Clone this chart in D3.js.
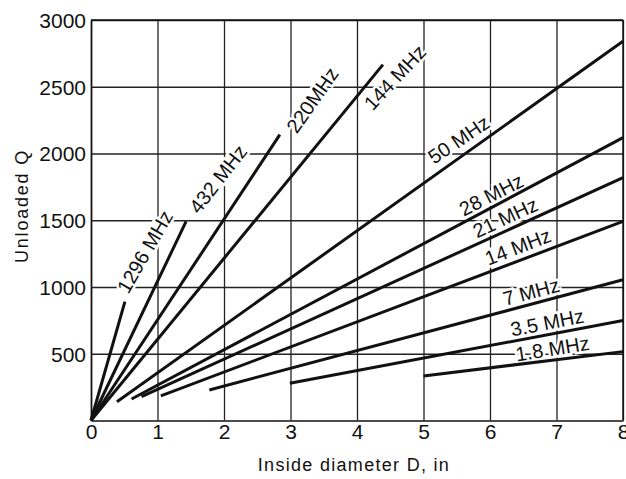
<!DOCTYPE html>
<html>
<head>
<meta charset="utf-8">
<script src="https://cdn.jsdelivr.net/npm/d3@7"></script>
<style>
  body { margin: 0; background: #fff; }
  svg { display: block; font-family: "Liberation Sans", Arial, sans-serif; }
  .axis .domain { stroke: #111; stroke-width: 1.6px; }
  .axis .tick line { stroke: #222; stroke-width: 1.3px; }
  .axis .tick text { font-size: 21px; fill: #111; }
</style>
</head>
<body>
<div id="chart"></div>
<script>
// chart values
var bands = ["1296 MHz", "432 MHz", "220MHz", "144 MHz", "50 MHz", "28 MHz",
             "21 MHz", "14 MHz", "7 MHz", "3.5 MHz", "1.8 MHz"];
var dStart = [0, 0, 0, 0, 0.39, 0.61, 0.76, 1.05, 1.78, 2.99, 5.0];
var qStart = [0, 0, 0, 0, 140, 161, 178, 184, 229, 279, 334];
var dEnd = [0.51, 1.43, 2.84, 4.39, 8, 8, 8, 8, 8, 8, 8];
var qEnd = [891, 1491, 2141, 2666, 2841, 2119, 1819, 1491, 1054, 749, 516];
var xTicks = [0, 1, 2, 3, 4, 5, 6, 7, 8];
var yTicks = [500, 1000, 1500, 2000, 2500, 3000];

// where the band labels sit (data units) and their tilt
var labelD = [0.81, 1.91, 3.33, 4.57, 5.53, 6.02, 6.23, 6.42, 6.62, 6.86, 6.94];
var labelQ = [1264, 1808, 2400, 2569, 2104, 1691, 1519, 1301, 964, 733, 538];
var labelAngle = [-60, -52, -55, -47, -34, -27, -25, -21, -15, -11, -9];

// margins and svg size
var margin = { top: 20, right: 3, bottom: 58.5, left: 91 },
  width = 626 - margin.left - margin.right,
  height = 479 - margin.top - margin.bottom;

var svg = d3.select("#chart").append("svg")
  .attr("width", 626)
  .attr("height", 479);

var g = svg.append("g")
  .attr("transform", "translate(" + margin.left + "," + margin.top + ")");

var x = d3.scaleLinear().domain([0, 8]).range([0, width]);
var y = d3.scaleLinear().domain([0, 3000]).range([height, 0]);

// grid + axes
g.append("g")
  .attr("class", "axis")
  .attr("transform", "translate(0," + height + ")")
  .call(d3.axisBottom(x).tickValues(xTicks).tickFormat(d3.format("d"))
    .tickSize(-height).tickSizeOuter(0).tickPadding(3))
  .selectAll("text").attr("dy", "0.75em");

g.append("g")
  .attr("class", "axis")
  .call(d3.axisLeft(y).tickValues(yTicks).tickFormat(d3.format("d"))
    .tickSize(-width).tickSizeOuter(0).tickPadding(5))
  .selectAll("text").attr("dy", "0.35em");

// top and right border
g.append("line").attr("x1", 0).attr("x2", width).attr("y1", 0).attr("y2", 0)
  .attr("stroke", "#111").attr("stroke-width", 1.4);
g.append("line").attr("x1", width).attr("x2", width).attr("y1", 0).attr("y2", height)
  .attr("stroke", "#111").attr("stroke-width", 1.4);

// band labels (white halo breaks the grid behind them)
g.selectAll(".band-label")
  .data(bands)
  .enter().append("text")
  .attr("class", "band-label")
  .attr("transform", function(d, i) {
    return "translate(" + x(labelD[i]) + "," + y(labelQ[i]) + ") rotate(" + labelAngle[i] + ")";
  })
  .attr("text-anchor", "middle")
  .attr("dy", "0.35em")
  .style("font-size", "20px")
  .style("paint-order", "stroke")
  .attr("stroke", "#fff")
  .attr("stroke-width", 5)
  .attr("fill", "#111")
  .text(function(d) { return d; });

// Q lines
g.selectAll(".q-line")
  .data(bands)
  .enter().append("line")
  .attr("class", "q-line")
  .attr("x1", function(d, i) { return x(dStart[i]); })
  .attr("y1", function(d, i) { return y(qStart[i]); })
  .attr("x2", function(d, i) { return x(dEnd[i]); })
  .attr("y2", function(d, i) { return y(qEnd[i]); })
  .attr("stroke", "#111")
  .attr("stroke-width", 3);

// axis titles
svg.append("text")
  .text("Inside diameter D, in")
  .attr("x", 354)
  .attr("y", 471)
  .attr("text-anchor", "middle")
  .style("font-size", "18px")
  .style("letter-spacing", "1.3px")
  .attr("fill", "#111");

svg.append("text")
  .text("Unloaded Q")
  .attr("transform", "translate(28,206) rotate(-90)")
  .attr("text-anchor", "middle")
  .style("font-size", "18px")
  .style("letter-spacing", "1.8px")
  .attr("fill", "#111");
</script>
</body>
</html>
